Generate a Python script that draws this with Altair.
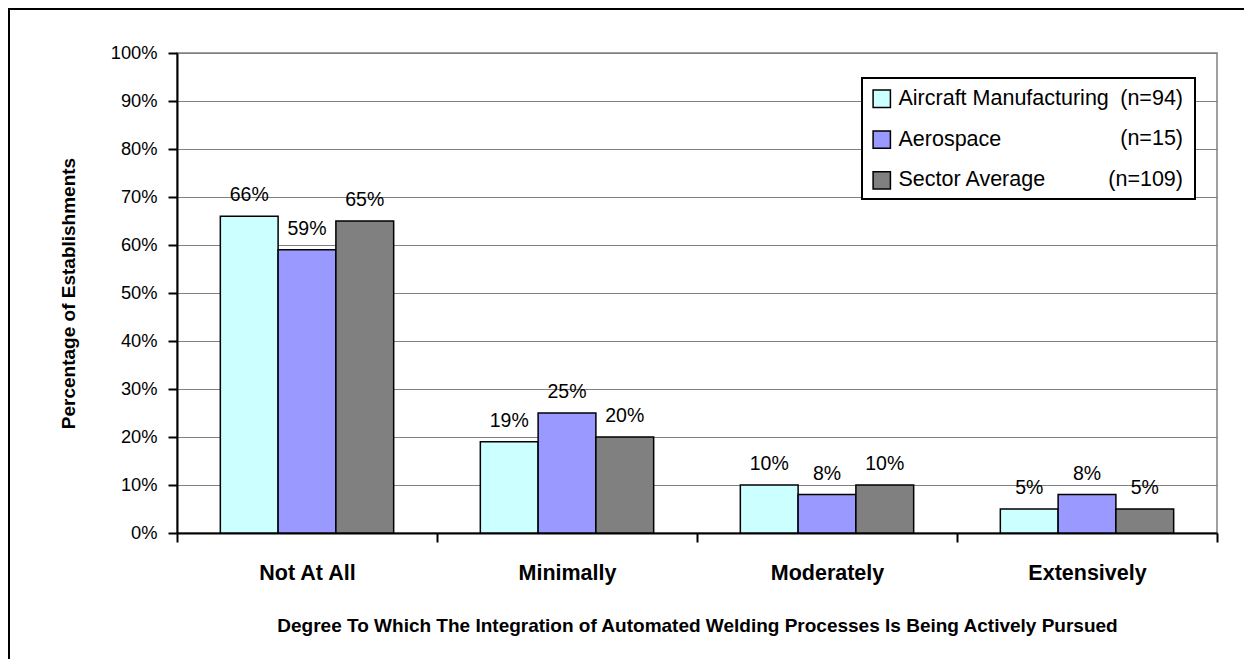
import altair as alt
import pandas as pd

categories = ["Not At All", "Minimally", "Moderately", "Extensively"]
series = ["Aircraft Manufacturing", "Aerospace", "Sector Average"]
sample_sizes = ["(n=94)", "(n=15)", "(n=109)"]
aircraft = [0.66, 0.19, 0.10, 0.05]
aerospace = [0.59, 0.25, 0.08, 0.08]
sector_avg = [0.65, 0.20, 0.10, 0.05]
colors = ["#CCFFFF", "#9999FF", "#808080"]
y_ticks = [0.0, 0.1, 0.2, 0.3, 0.4, 0.5, 0.6, 0.7, 0.8, 0.9, 1.0]

rows = []
for s, vals in zip(series, [aircraft, aerospace, sector_avg]):
    for c, v in zip(categories, vals):
        rows.append({"category": c, "series": s, "value": v})
df = pd.DataFrame(rows)
legend_df = pd.DataFrame({"series": series, "n": sample_sizes})
one = pd.DataFrame({"k": [0]})

FONT = "Liberation Sans, Arial, sans-serif"

x_enc = alt.X(
    "category:N", sort=categories,
    scale=alt.Scale(paddingInner=0, paddingOuter=0),
    axis=alt.Axis(
        title="Degree To Which The Integration of Automated Welding Processes Is Being Actively Pursued",
        titleFont=FONT, titleFontSize=19, titleFontWeight="bold", titleColor="black",
        titleX=520, titleY=92, titleAlign="center", titleBaseline="middle",
        labelFont=FONT, labelFontSize=21.5, labelFontWeight="bold", labelColor="black",
        labelAngle=0, labelBaseline="middle", labelPadding=31,
        tickBand="extent", tickSize=9, tickWidth=2, tickColor="black",
        domainColor="black", domainWidth=2, grid=False,
    ),
)
xoff = alt.XOffset("series:N", sort=series, scale=alt.Scale(paddingInner=0, paddingOuter=0.75))
y_scale = alt.Scale(domain=[0, 1], nice=False)

bars = alt.Chart(df).mark_bar(stroke="black", strokeWidth=1.5).encode(
    x=x_enc,
    xOffset=xoff,
    y=alt.Y(
        "value:Q", scale=y_scale,
        axis=alt.Axis(
            values=y_ticks, format=".0%", title="Percentage of Establishments",
            titleFont=FONT, titleFontSize=19, titleFontWeight="bold", titleColor="black",
            titleX=-109, titleY=240, titleAlign="center", titleBaseline="middle", titleAngle=270,
            labelFont=FONT, labelFontSize=18.3, labelColor="black", labelPadding=11,
            tickSize=9, tickWidth=2, tickColor="black",
            domainColor="black", domainWidth=2,
            grid=True, gridColor="#808080", gridWidth=1,
        ),
    ),
    fill=alt.Fill(
        "series:N", sort=series,
        scale=alt.Scale(domain=series, range=colors),
        legend=alt.Legend(
            title=None, orient="none", legendX=694, legendY=35, direction="vertical",
            labelFont=FONT, labelFontSize=21.5, labelColor="black", labelLimit=400,
            symbolType="square", symbolSize=300, symbolStrokeColor="black",
            symbolStrokeWidth=1.5, labelOffset=6, rowPadding=16.8, padding=0,
        ),
    ),
)

labels = alt.Chart(df).mark_text(
    baseline="middle", dy=-21, fontSize=19.5, font=FONT, color="black"
).encode(
    x=alt.X("category:N", sort=categories),
    xOffset=xoff,
    y=alt.Y("value:Q", scale=y_scale, axis=None),
    text=alt.Text("value:Q", format=".0%"),
)

frame = alt.Chart(one).mark_rect(filled=False, stroke="black", strokeWidth=2).encode(
    x=alt.value(-168), x2=alt.value(1300), y=alt.value(-44), y2=alt.value(800)
)

box = alt.Chart(one).mark_rect(fill="white", stroke="black", strokeWidth=2).encode(
    x=alt.value(685), x2=alt.value(1018), y=alt.value(25), y2=alt.value(146)
)

ntext = alt.Chart(legend_df).mark_text(
    align="right", baseline="middle", fontSize=21.5, font=FONT, color="black"
).encode(
    x=alt.value(1006),
    y=alt.Y("series:N", sort=series,
            scale=alt.Scale(type="point", domain=series, range=[46, 126.5], padding=0),
            axis=None),
    text="n:N",
)

chart = alt.layer(frame, box, bars, labels, ntext).resolve_scale(
    y="independent"
).properties(
    width=1040, height=480,
    padding={"left": 169, "top": 45, "right": 27, "bottom": 126},
    autosize=alt.AutoSizeParams(type="none"),
    background="white",
).configure_view(stroke="#808080", strokeWidth=1.5)

chart.save("out.html", embed_options={"renderer": "svg", "actions": False})
